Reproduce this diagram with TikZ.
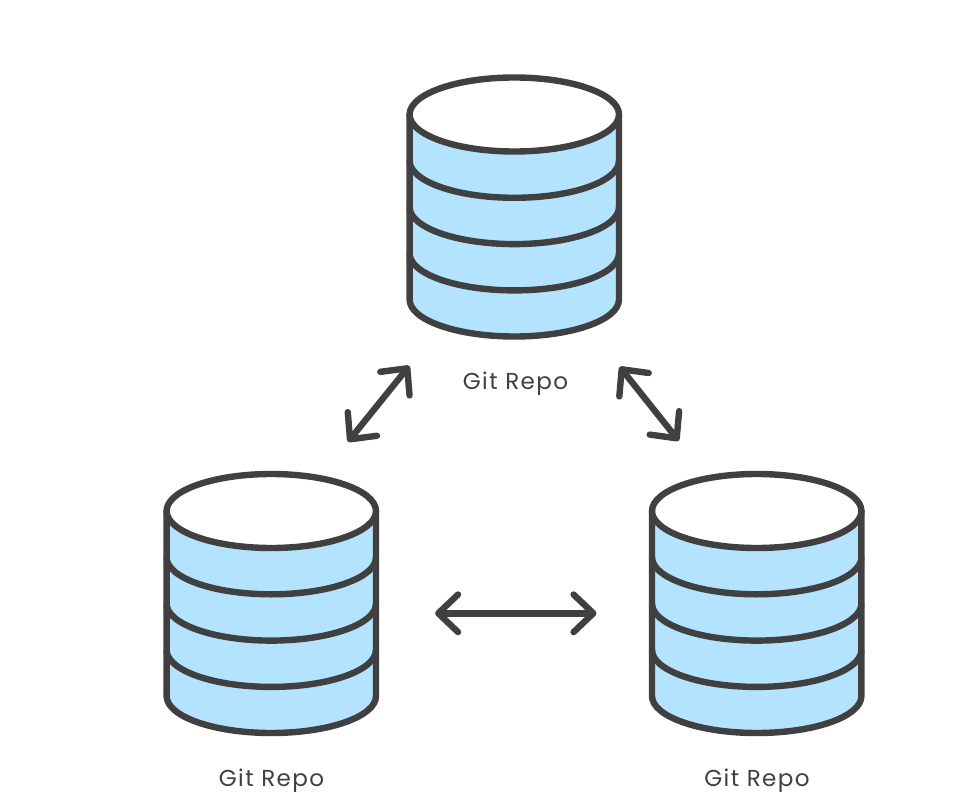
\documentclass[tikz,border=0pt]{standalone}
\usepackage{fontspec}
\usetikzlibrary{arrows.meta}
\newfontfamily\repofont[LetterSpace=6]{Poppins}
\definecolor{repoline}{HTML}{404040}
\definecolor{repofill}{HTML}{B3E3FF}
\pgfdeclarearrow{
  name=RepoBarb,
  parameters={\the\pgfarrowlinewidth},
  setup code={
    \pgfarrowssettipend{0pt}
    \pgfarrowssetlineend{-1pt}
    \pgfarrowssetbackend{-14.8pt}
    \pgfarrowssetvisualbackend{-14.8pt}
    \pgfarrowsupperhullpoint{-14.8pt}{14.1pt}
    \pgfarrowsupperhullpoint{0pt}{0pt}
  },
  drawing code={
    \pgfsetdash{}{0pt}
    \pgfsetroundcap
    \pgfsetroundjoin
    \pgfpathmoveto{\pgfqpoint{-14.8pt}{14.1pt}}
    \pgfpathlineto{\pgfqpoint{0pt}{0pt}}
    \pgfpathlineto{\pgfqpoint{-14.8pt}{-14.1pt}}
    \pgfusepathqstroke
  }
}
\tikzset{>=RepoBarb}
\tikzstyle{repowall}=[draw=repoline,fill=repofill,line width=4.8pt,line join=round]
\tikzstyle{repotop}=[draw=repoline,fill=white,line width=4.8pt]
\tikzstyle{repoband}=[draw=repoline,line width=4.8pt]
\tikzstyle{repolabel}=[text=repoline,font=\repofont\fontsize{17.3}{20}\selectfont,inner sep=0pt]
\tikzstyle{sync}=[<->,draw=repoline,line width=4.8pt,line cap=round]

\begin{document}
\begin{tikzpicture}[x=0.75pt,y=0.75pt]
  \useasboundingbox (0,0) rectangle (966,-805);

  \foreach \nm/\cx/\cy in {repotopc/514.3/-114.5,repoleft/271.3/-511,reporight/756.7/-511} {
    \begin{scope}[shift={(\cx,\cy)}]
      \coordinate (\nm) at (0,0);
      \draw[repowall] (-104.7,0) -- (-104.7,-185)
        arc[start angle=180,end angle=360,x radius=104.7,y radius=37]
        -- (104.7,0) -- cycle;
      \foreach \ly in {-46.3,-92.6,-138.9}
        \draw[repoband] (-104.7,\ly)
          arc[start angle=180,end angle=360,x radius=104.7,y radius=37];
      \draw[repotop] (0,0) ellipse [x radius=104.7,y radius=37];
    \end{scope}
  }

  \node[repolabel] (toplabel) at (515.5,-384) {Git Repo};
  \node[repolabel] (leftlabel) at (271.5,-781) {Git Repo};
  \node[repolabel] (rightlabel) at (757,-781) {Git Repo};

  \coordinate (lefta) at (350,-439.3);
  \coordinate (leftb) at (407.3,-368.3);
  \coordinate (righta) at (621.7,-369.3);
  \coordinate (rightb) at (676.7,-438.3);
  \coordinate (bota) at (438.3,-613.3);
  \coordinate (botb) at (593.3,-613.3);

  \draw[sync] (lefta) -- (leftb);
  \draw[sync] (righta) -- (rightb);
  \draw[sync] (bota) -- (botb);
\end{tikzpicture}
\end{document}
